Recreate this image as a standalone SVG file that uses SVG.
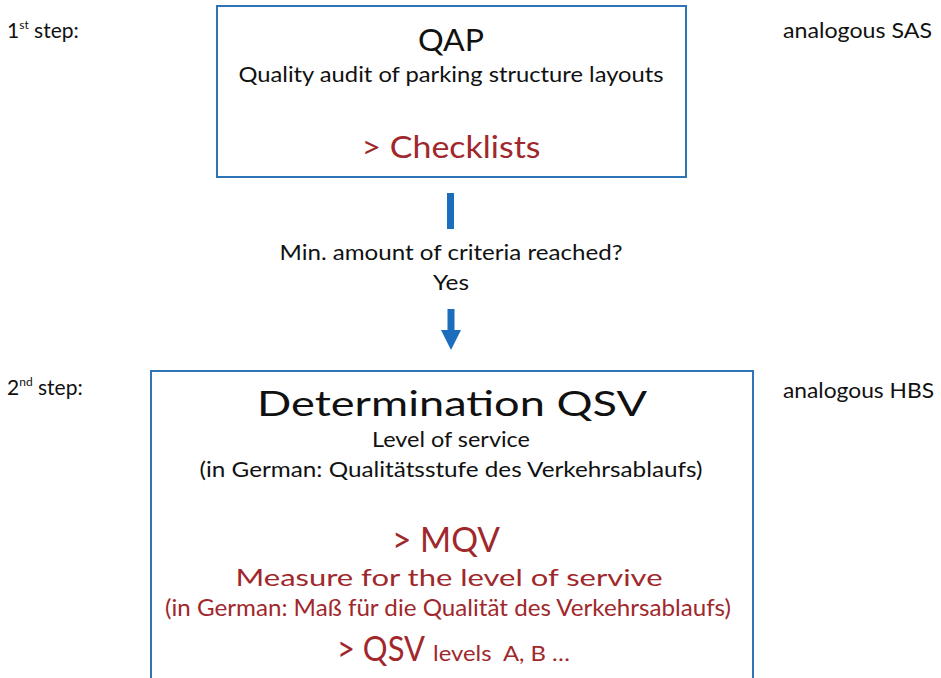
<svg xmlns="http://www.w3.org/2000/svg" width="941" height="678" viewBox="0 0 941 678">
<style>
text{font-family:Lato,"Open Sans","Liberation Sans",sans-serif;fill:#111}
.c{text-anchor:middle}
.r{fill:#A0282C}
.box{fill:#fff;stroke:#2E75B6;stroke-width:2}
</style>
<rect width="941" height="678" fill="#fff"/>
<g id="labels">
<text x="7" y="38" font-size="21">1<tspan font-size="12" dy="-9">st</tspan><tspan dy="9"> step:</tspan></text>
<text x="7" y="395" font-size="21">2<tspan font-size="12" dy="-9">nd</tspan><tspan dy="9"> step:</tspan></text>
<text x="783" y="38" font-size="21" textLength="149" lengthAdjust="spacingAndGlyphs">analogous SAS</text>
<text x="783" y="398" font-size="21" textLength="151" lengthAdjust="spacingAndGlyphs">analogous HBS</text>
</g>
<g id="node-qap">
<rect class="box" x="217" y="6" width="469" height="171"/>
<text class="c" x="451" y="51" font-size="31" textLength="66" lengthAdjust="spacingAndGlyphs">QAP</text>
<text class="c" x="451" y="82" font-size="21" textLength="425" lengthAdjust="spacingAndGlyphs">Quality audit of parking structure layouts</text>
<text class="c r" x="451" y="158" font-size="31" textLength="179" lengthAdjust="spacingAndGlyphs">&gt; Checklists</text>
</g>
<g id="connectors">
<rect x="447" y="193" width="7" height="36" fill="#1C6EBD"/>
<text class="c" x="451" y="260" font-size="21" textLength="343" lengthAdjust="spacingAndGlyphs">Min. amount of criteria reached?</text>
<text class="c" x="451" y="290" font-size="21" textLength="36" lengthAdjust="spacingAndGlyphs">Yes</text>
<path d="M447.5 309 H454.5 V330 H461 L451 350 L441 330 H447.5 Z" fill="#1C6EBD"/>
</g>
<g id="node-qsv">
<rect class="box" x="151" y="371" width="602" height="320"/>
<text class="c" x="452" y="416" font-size="34" textLength="390" lengthAdjust="spacingAndGlyphs">Determination QSV</text>
<text class="c" x="451" y="447" font-size="21" textLength="158" lengthAdjust="spacingAndGlyphs">Level of service</text>
<text class="c" x="451" y="477" font-size="21" textLength="503" lengthAdjust="spacingAndGlyphs">(in German: Qualitätsstufe des Verkehrsablaufs)</text>
<text class="c r" x="446" y="552" font-size="34" textLength="108" lengthAdjust="spacingAndGlyphs">&gt; MQV</text>
<text class="c r" x="449" y="586" font-size="23" textLength="427" lengthAdjust="spacingAndGlyphs">Measure for the level of servive</text>
<text class="c r" x="448" y="616" font-size="23" textLength="566" lengthAdjust="spacingAndGlyphs">(in German: Maß für die Qualität des Verkehrsablaufs)</text>
<text class="r" x="337" y="661" xml:space="preserve"><tspan font-size="34" textLength="88" lengthAdjust="spacingAndGlyphs">&gt; QSV</tspan><tspan font-size="21" dx="8" textLength="137" lengthAdjust="spacingAndGlyphs">levels  A, B …</tspan></text>
</g>
</svg>
